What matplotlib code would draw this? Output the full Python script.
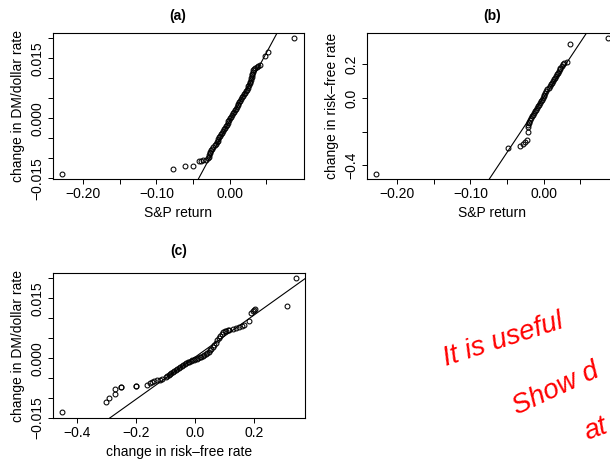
import numpy as np
import matplotlib.pyplot as plt

plt.rcParams['font.family'] = ['Liberation Sans', 'DejaVu Sans']
plt.rcParams['axes.unicode_minus'] = True

# (a) sorted S&P returns vs sorted changes in DM/dollar rate
a_sp = [-0.2290, -0.0774, -0.0615, -0.0501, -0.0424, -0.0387, -0.0365, -0.0318,
        -0.0300, -0.0286, -0.0276, -0.0270, -0.0264, -0.0255, -0.0240, -0.0223, -0.0207, -0.0191,
        -0.0178, -0.0166, -0.0153, -0.0141, -0.0128, -0.0116, -0.0104, -0.0091, -0.0079, -0.0066,
        -0.0054, -0.0042, -0.0029, -0.0017, -0.0004, 0.0008, 0.0020, 0.0033, 0.0045, 0.0058,
        0.0070, 0.0082, 0.0095, 0.0107, 0.0120, 0.0132, 0.0144, 0.0157, 0.0169, 0.0182,
        0.0194, 0.0206, 0.0219, 0.0231, 0.0243, 0.0254, 0.0264, 0.0273, 0.0281, 0.0288,
        0.0294, 0.0299, 0.0304, 0.0309, 0.0314, 0.0322, 0.0334, 0.0350, 0.0370, 0.0392, 0.0410,
        0.0488, 0.0523, 0.0880]
a_dm = [-0.01386, -0.01269, -0.01204, -0.01204, -0.0108, -0.0106, -0.01055, -0.01037,
        -0.0100, -0.0096, -0.0092, -0.0088, -0.0084, -0.0080, -0.0076, -0.0072, -0.0068, -0.0064,
        -0.0060, -0.0056, -0.0052, -0.0048, -0.0044, -0.0040, -0.0036, -0.0032, -0.0028, -0.0024,
        -0.0020, -0.0016, -0.0012, -0.0008, -0.0004, 0.0000, 0.0004, 0.0008, 0.0012, 0.0016,
        0.0020, 0.0024, 0.0028, 0.0032, 0.0036, 0.0040, 0.0044, 0.0048, 0.0052, 0.0056,
        0.0060, 0.0064, 0.0068, 0.0072, 0.0076, 0.0080, 0.0084, 0.0088, 0.0092, 0.0096,
        0.0100, 0.0104, 0.0108, 0.0112, 0.0116, 0.0120, 0.0123, 0.0126, 0.0129, 0.0132, 0.0134,
        0.0157, 0.0166, 0.0200]

# (b) sorted S&P returns vs sorted changes in risk-free rate
b_sp = [-0.2290, -0.0482, -0.0320, -0.0288, -0.0256, -0.0228, -0.0220, -0.0215, -0.0212,
        -0.0205, -0.0196, -0.0185, -0.0172, -0.0158, -0.0144, -0.0130, -0.0117, -0.0104,
        -0.0092, -0.0080, -0.0067, -0.0054, -0.0041, -0.0028, -0.0015, -0.0002, 0.0011,
        0.0024, 0.0038, 0.0052, 0.0066, 0.0081, 0.0097, 0.0112, 0.0128, 0.0144, 0.0158,
        0.0171, 0.0183, 0.0195, 0.0206, 0.0216, 0.0228, 0.0244, 0.0262,
        0.0279, 0.0324, 0.0356, 0.0880]
b_rf = [-0.449, -0.298, -0.288, -0.272, -0.259, -0.249, -0.200, -0.170, -0.160,
        -0.15, -0.14, -0.13, -0.12, -0.11, -0.10, -0.09, -0.08, -0.07,
        -0.06, -0.05, -0.04, -0.03, -0.02, -0.01, 0.00, 0.01, 0.02,
        0.03, 0.04, 0.05, 0.06, 0.07, 0.08, 0.09, 0.10, 0.11, 0.12,
        0.13, 0.14, 0.15, 0.16, 0.17, 0.18, 0.19, 0.20,
        0.206, 0.212, 0.320, 0.353]

# (c) sorted changes in risk-free rate vs sorted changes in DM/dollar rate
c_rf = [-0.450, -0.301, -0.292, -0.271, -0.271, -0.252, -0.252, -0.201, -0.201,
        -0.162, -0.154, -0.147, -0.139, -0.128, -0.119, -0.111,
        -0.100, -0.095, -0.090, -0.085, -0.080, -0.075, -0.070, -0.065, -0.060, -0.055,
        -0.050, -0.045, -0.040, -0.035, -0.030, -0.025, -0.020, -0.015, -0.010, -0.005,
        0.000, 0.005, 0.010, 0.015, 0.020, 0.025, 0.030, 0.035, 0.040, 0.045,
        0.050, 0.055, 0.060, 0.065, 0.070, 0.075, 0.080, 0.085, 0.090, 0.095,
        0.100, 0.105, 0.110, 0.115,
        0.126, 0.138, 0.149, 0.158, 0.166, 0.183, 0.189, 0.194, 0.200, 0.203, 0.310, 0.339]
c_dm = [-0.01355, -0.0110, -0.00995, -0.00887, -0.0078, -0.00725, -0.00712, -0.00705, -0.00692,
        -0.0067, -0.00625, -0.0060, -0.00576, -0.0056, -0.0054, -0.0052,
        -0.00482, -0.00455, -0.00428, -0.00400, -0.00372, -0.00345, -0.00320, -0.00295, -0.00270, -0.00245,
        -0.00221, -0.00198, -0.00175, -0.00152, -0.00128, -0.00105, -0.00088, -0.00072, -0.00057, -0.00042,
        -0.00028, -0.00013, 0.00002, 0.00019, 0.00038, 0.00058, 0.00080, 0.00105, 0.00133, 0.00163,
        0.00196, 0.00234, 0.00280, 0.00334, 0.00392, 0.00452, 0.00512, 0.00566, 0.00612, 0.00646,
        0.00672, 0.00690, 0.00704, 0.00714,
        0.0073, 0.0075, 0.0078, 0.0081, 0.0084, 0.0092, 0.0112, 0.0117, 0.0120, 0.0123, 0.0131, 0.0200]

# reference lines (intercept, slope)
a_line = (-0.00066, 0.3405)
b_line = (0.0032, 6.53)
c_line = (0.00028, 0.0530)

sp_ticks = [-0.20, -0.15, -0.10, -0.05, 0.00, 0.05]
sp_labels = ['\u22120.20', '', '\u22120.10', '', '0.00', '']
dm_ticks = [-0.015, -0.010, -0.005, 0.000, 0.005, 0.010, 0.015, 0.020]
dm_labels = ['\u22120.015', '', '', '0.000', '', '', '0.015', '']
rf_ticks = [-0.4, -0.2, 0.0, 0.2]
rf_ylabels = ['\u22120.4', '', '0.0', '0.2']
rf_xlabels = ['\u22120.4', '\u22120.2', '0.0', '0.2']

W, H = 610, 462
fig = plt.figure(figsize=(W / 100, H / 100), dpi=100)


def px_axes(left, top, right, bottom):
    return fig.add_axes([left / W, 1 - bottom / H, (right - left) / W, (bottom - top) / H])


def qq_panel(ax, x, y, line, title, xlabel, ylabel, xt, xl, yt, yl, tpad):
    ax.plot(x, y, 'o', mfc='none', mec='black', ms=3.5, mew=0.75)
    ax.margins(0.04)
    ax.axline((0, line[0]), slope=line[1], color='black', lw=0.8)
    ax.set_xticks(xt, xl)
    ax.set_yticks(yt, yl, rotation=90, va='center')
    ax.tick_params(direction='out', length=3.5, width=0.7, pad=2.5, labelsize=10)
    for s in ax.spines.values():
        s.set_linewidth(0.8)
    ax.set_title(title, fontsize=10, fontweight='bold', pad=tpad)
    ax.set_xlabel(xlabel, fontsize=10, labelpad=3.5)
    ax.set_ylabel(ylabel, fontsize=10, labelpad=4)


ax1 = px_axes(52.5, 33, 303.5, 179)
qq_panel(ax1, a_sp, a_dm, a_line, '(a)', 'S&P return', 'change in DM/dollar rate',
         sp_ticks, sp_labels, dm_ticks, dm_labels, 9.5)

ax2 = px_axes(366.5, 33, 617.5, 179)
qq_panel(ax2, b_sp, b_rf, b_line, '(b)', 'S&P return', 'change in risk\u2013free rate',
         sp_ticks, sp_labels, rf_ticks, rf_ylabels, 9.5)

ax3 = px_axes(52.5, 273, 305, 418)
qq_panel(ax3, c_rf, c_dm, c_line, '(c)', 'change in risk\u2013free rate', 'change in DM/dollar rate',
         rf_ticks, rf_xlabels, dm_ticks, dm_labels, 13)

# handwritten note in red
note = dict(color='red', fontsize=20, style='italic', rotation_mode='anchor',
            ha='left', va='baseline')
fig.text(446 / W, 1 - 366 / H, 'It is useful', rotation=18, **note)
fig.text(517 / W, 1 - 415 / H, 'Show d', rotation=25, **note)
fig.text(587 / W, 1 - 440 / H, 'at', rotation=20, **note)

fig.savefig('out.png', dpi=100)
